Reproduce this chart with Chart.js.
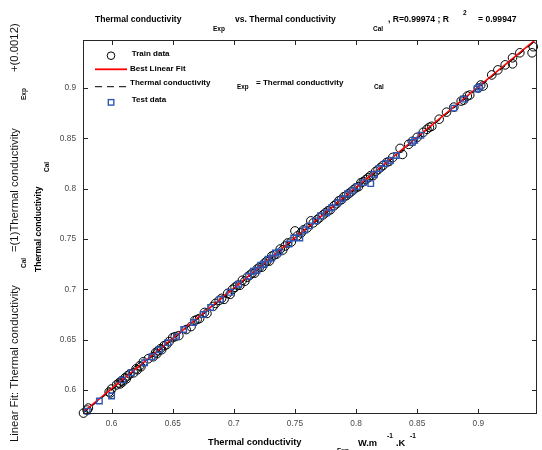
<!DOCTYPE html>
<html>
<head>
<meta charset="utf-8">
<script src="https://cdn.jsdelivr.net/npm/chart.js@4/dist/chart.umd.min.js"></script>
<style>
    html, body { margin: 0; padding: 0; background: #fff; }
    #wrap { width: 542px; height: 450px; }
</style>
</head>
<body>
<div id="wrap"><canvas id="regChart" width="542" height="450"></canvas></div>
<script>
// Axis range (same for both axes) and tick values
const axisMin = 0.5766;
const axisMax = 0.9477;
const tickValues = [0.6, 0.65, 0.7, 0.75, 0.8, 0.85, 0.9];

// Best linear fit: Cal = slope * Exp + intercept
const fitSlope = 1;
const fitIntercept = 0.0012;

// Train data (x = Exp, y = Cal)
const trainExp = [0.577,0.580,0.581,0.598,0.599,0.600,0.604,0.606,0.607,0.608,
    0.609,0.611,0.612,0.613,0.615,0.618,0.620,0.621,0.623,0.624,
    0.626,0.630,0.634,0.636,0.637,0.638,0.640,0.641,0.643,0.645,
    0.647,0.650,0.652,0.655,0.661,0.665,0.668,0.670,0.672,0.676,
    0.678,0.683,0.685,0.688,0.690,0.692,0.695,0.697,0.699,0.701,
    0.703,0.705,0.707,0.709,0.711,0.713,0.715,0.717,0.719,0.721,
    0.723,0.725,0.727,0.729,0.731,0.733,0.735,0.738,0.740,0.742,
    0.744,0.747,0.750,0.752,0.755,0.757,0.760,0.763,0.765,0.768,
    0.770,0.773,0.775,0.777,0.779,0.782,0.784,0.786,0.788,0.790,
    0.792,0.794,0.796,0.798,0.800,0.802,0.804,0.806,0.808,0.810,
    0.812,0.814,0.816,0.818,0.820,0.822,0.825,0.827,0.830,0.836,
    0.838,0.843,0.846,0.850,0.855,0.858,0.860,0.862,0.868,0.874,
    0.880,0.886,0.888,0.891,0.893,0.900,0.902,0.904,0.911,0.916,
    0.922,0.928,0.928,0.934,0.944,0.945];
const trainCal = [0.577,0.580,0.582,0.598,0.597,0.601,0.605,0.607,0.606,0.609,
    0.608,0.612,0.611,0.614,0.616,0.617,0.621,0.620,0.624,0.623,
    0.628,0.631,0.633,0.637,0.636,0.639,0.641,0.640,0.644,0.645,
    0.648,0.652,0.653,0.654,0.660,0.663,0.669,0.670,0.671,0.677,
    0.676,0.683,0.686,0.689,0.691,0.690,0.696,0.695,0.700,0.702,
    0.704,0.704,0.709,0.708,0.712,0.714,0.716,0.716,0.720,0.722,
    0.722,0.726,0.728,0.728,0.733,0.734,0.735,0.740,0.739,0.743,
    0.746,0.747,0.758,0.753,0.756,0.759,0.761,0.768,0.766,0.769,
    0.771,0.774,0.776,0.778,0.779,0.783,0.785,0.788,0.789,0.792,
    0.793,0.795,0.797,0.799,0.801,0.802,0.806,0.807,0.809,0.811,
    0.813,0.813,0.817,0.819,0.821,0.823,0.826,0.827,0.831,0.840,
    0.834,0.844,0.847,0.851,0.856,0.859,0.861,0.862,0.869,0.876,
    0.881,0.887,0.888,0.892,0.893,0.900,0.903,0.902,0.913,0.918,
    0.923,0.924,0.930,0.935,0.935,0.941];

// Test data
const testExp = [0.580,0.590,0.600,0.609,0.616,0.627,0.633,0.639,0.646,0.653,
    0.659,0.667,0.675,0.681,0.689,0.697,0.704,0.712,0.716,0.719,
    0.722,0.725,0.728,0.731,0.734,0.737,0.745,0.749,0.754,0.758,
    0.762,0.767,0.771,0.776,0.780,0.785,0.789,0.793,0.797,0.801,
    0.806,0.812,0.815,0.819,0.824,0.828,0.833,0.846,0.848,0.853,
    0.880,0.888,0.899,0.901];
const testCal = [0.579,0.589,0.594,0.610,0.617,0.627,0.633,0.640,0.647,0.653,
    0.660,0.667,0.675,0.682,0.690,0.697,0.705,0.713,0.718,0.719,
    0.724,0.725,0.730,0.731,0.736,0.737,0.745,0.751,0.751,0.759,
    0.763,0.768,0.773,0.776,0.781,0.786,0.790,0.795,0.798,0.802,
    0.806,0.805,0.814,0.820,0.825,0.828,0.833,0.846,0.848,0.853,
    0.880,0.889,0.899,0.901];

const FONT = 'Liberation Sans, Arial, Helvetica, sans-serif';
const bold = px => `bold ${px}px ${FONT}`;
const reg = px => `${px}px ${FONT}`;

const trainPoints = trainExp.map((x, i) => ({ x: x, y: trainCal[i] }));
const testPoints = testExp.map((x, i) => ({ x: x, y: testCal[i] }));
const fitLine = [axisMin, axisMax].map(x => ({ x: x, y: fitSlope * x + fitIntercept }));
const unitLine = [axisMin, axisMax].map(x => ({ x: x, y: x }));

function text(ctx, s, x, y, font) {
    ctx.font = font;
    ctx.fillText(s, x, y);
}

function vtext(ctx, s, x, y, font) {
    ctx.save();
    ctx.translate(x, y);
    ctx.rotate(-Math.PI / 2);
    ctx.font = font;
    ctx.fillText(s, 0, 0);
    ctx.restore();
}

// Box, inward ticks, legend and labels in the MATLAB style
const matlabFrame = {
    id: 'matlabFrame',
    afterDatasetsDraw(chart) {
        const ctx = chart.ctx;
        const a = chart.chartArea;
        const xs = chart.scales.x, ys = chart.scales.y;
        const L = Math.round(a.left) + 0.5, R = Math.round(a.right) - 0.5;
        const T = Math.round(a.top) + 0.5, B = Math.round(a.bottom) - 0.5;

        ctx.save();
        ctx.strokeStyle = '#262626';
        ctx.lineWidth = 1;
        ctx.setLineDash([]);
        ctx.strokeRect(L, T, R - L, B - T);
        const tl = 4.5;
        ctx.beginPath();
        tickValues.forEach(v => {
            const px = Math.round(xs.getPixelForValue(v)) + 0.5;
            ctx.moveTo(px, B); ctx.lineTo(px, B - tl);
            ctx.moveTo(px, T); ctx.lineTo(px, T + tl);
            const py = Math.round(ys.getPixelForValue(v)) + 0.5;
            ctx.moveTo(L, py); ctx.lineTo(L + tl, py);
            ctx.moveTo(R, py); ctx.lineTo(R - tl, py);
        });
        ctx.stroke();

        // legend
        ctx.fillStyle = '#000';
        ctx.textAlign = 'left';
        ctx.textBaseline = 'middle';
        ctx.strokeStyle = '#000';
        ctx.lineWidth = 1;
        ctx.beginPath();
        ctx.arc(111, 55.7, 3.8, 0, Math.PI * 2);
        ctx.stroke();
        text(ctx, 'Train data', 131.7, 54, bold(8));

        ctx.strokeStyle = '#ff0000';
        ctx.lineWidth = 1.8;
        ctx.beginPath();
        ctx.moveTo(95, 69.3); ctx.lineTo(127, 69.3);
        ctx.stroke();
        text(ctx, 'Best Linear Fit', 130, 68.3, bold(8));

        ctx.strokeStyle = '#000';
        ctx.lineWidth = 1;
        ctx.setLineDash([7, 5]);
        ctx.beginPath();
        ctx.moveTo(95, 86.7); ctx.lineTo(127, 86.7);
        ctx.stroke();
        ctx.setLineDash([]);
        text(ctx, 'Thermal conductivity', 130, 82.3, bold(8));
        text(ctx, 'Exp', 237, 87.7, bold(6.3));
        text(ctx, '= Thermal conductivity', 256, 82.3, bold(8));
        text(ctx, 'Cal', 374, 87.7, bold(6.3));

        ctx.strokeStyle = '#2f56b3';
        ctx.lineWidth = 1.4;
        ctx.strokeRect(108.3, 99.6, 5.5, 5.5);
        text(ctx, 'Test data', 131.7, 100, bold(8));

        // title
        text(ctx, 'Thermal conductivity', 95, 20, bold(8.6));
        text(ctx, 'Exp', 213, 29, bold(6.5));
        text(ctx, 'vs. Thermal conductivity', 235, 20, bold(8.6));
        text(ctx, 'Cal', 373, 29, bold(6.5));
        text(ctx, ', R=0.99974 ; R', 388, 20, bold(8.6));
        text(ctx, '2', 463, 13, bold(6.5));
        text(ctx, '= 0.99947', 478, 20, bold(8.6));

        // x label
        text(ctx, 'Thermal conductivity', 208, 442, bold(9.3));
        text(ctx, 'Exp', 337, 451, bold(6.5));
        text(ctx, 'W.m', 358, 443, bold(9.3));
        text(ctx, '-1', 387, 436, bold(6.5));
        text(ctx, '.K', 396, 443, bold(9.3));
        text(ctx, '-1', 410, 436, bold(6.5));

        // y label
        ctx.fillStyle = '#111';
        vtext(ctx, 'Linear Fit: Thermal conductivity', 15, 442, reg(11.3));
        vtext(ctx, 'Cal', 24, 268, bold(6.5));
        vtext(ctx, '=(1)Thermal conductivity', 15, 252, reg(11.3));
        vtext(ctx, 'Exp', 24, 100, bold(6.5));
        vtext(ctx, '+(0.0012)', 15, 72, reg(11.3));
        ctx.fillStyle = '#000';
        vtext(ctx, 'Thermal conductivity', 39, 272, bold(8.5));
        vtext(ctx, 'Cal', 47, 172, bold(6.5));
        ctx.restore();
    }
};

function axisOptions(isX) {
    return {
        type: 'linear',
        min: axisMin,
        max: axisMax,
        grid: { display: false, drawTicks: false },
        border: { display: false },
        ticks: {
            color: '#4a4a4a',
            font: { family: FONT, size: 8.3 },
            padding: isX ? 5 : 7,
            autoSkip: false,
            maxRotation: 0,
            callback: v => String(+v.toFixed(2))
        },
        afterBuildTicks: scale => {
            scale.ticks = tickValues.map(v => ({ value: v }));
        },
        afterFit: scale => {
            if (isX) scale.height = 36.5;
            else scale.width = 83;
        }
    };
}

const ctx = document.getElementById('regChart').getContext('2d');
new Chart(ctx, {
    type: 'scatter',
    data: {
        datasets: [{
            label: 'Test data',
            data: testPoints,
            pointStyle: 'rect',
            pointRadius: 3.9,
            borderColor: '#2f56b3',
            backgroundColor: 'rgba(0,0,0,0)',
            borderWidth: 1.4,
            clip: false,
            order: 0
        }, {
            label: 'Exp = Cal',
            data: unitLine,
            showLine: true,
            borderColor: '#000',
            borderWidth: 1,
            borderDash: [7, 5],
            pointRadius: 0,
            order: 1
        }, {
            label: 'Best Linear Fit',
            data: fitLine,
            showLine: true,
            borderColor: '#ff0000',
            borderWidth: 1.6,
            pointRadius: 0,
            order: 2
        }, {
            label: 'Train data',
            data: trainPoints,
            pointStyle: 'circle',
            pointRadius: 4.3,
            borderColor: '#000',
            backgroundColor: 'rgba(0,0,0,0)',
            borderWidth: 1,
            clip: false,
            order: 3
        }]
    },
    options: {
        responsive: false,
        animation: false,
        layout: { padding: { top: 40, right: 1, left: 0, bottom: 0 } },
        plugins: {
            legend: { display: false },
            tooltip: { enabled: false }
        },
        scales: {
            x: axisOptions(true),
            y: axisOptions(false)
        }
    },
    plugins: [matlabFrame]
});
</script>
</body>
</html>
